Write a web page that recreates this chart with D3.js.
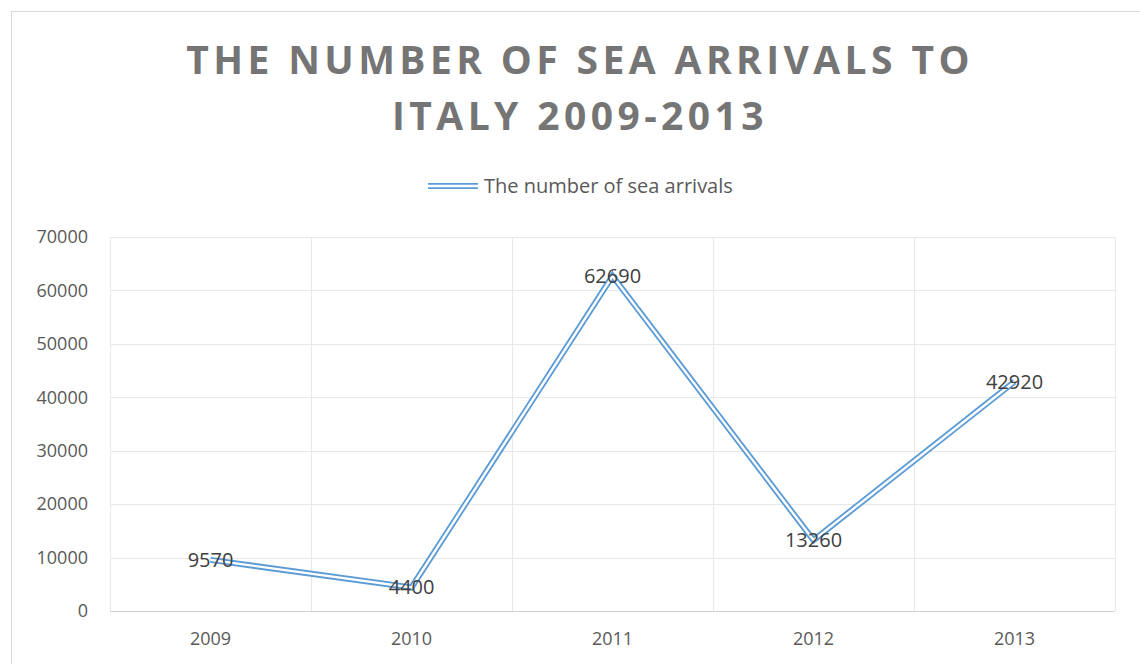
<!DOCTYPE html>
<html>
<head>
<meta charset="utf-8">
<script src="https://cdn.jsdelivr.net/npm/d3@7"></script>
<style>
  html, body { margin: 0; padding: 0; background: #fff; }
  svg { display: block; }
</style>
</head>
<body>
<svg id="chart" width="1140" height="664"></svg>
<script>
// Sea arrivals to Italy, yearly totals
const years = ["2009", "2010", "2011", "2012", "2013"];
const arrivals = [9570, 4400, 62690, 13260, 42920];
const yTicks = [0, 10000, 20000, 30000, 40000, 50000, 60000, 70000];
const titleLines = ["THE NUMBER OF SEA ARRIVALS TO", "ITALY 2009-2013"];
const seriesName = "The number of sea arrivals";

const svg = d3.select("#chart");
const W = 1140, H = 664;
const margin = { left: 110, right: 25, top: 237, bottom: 53 };
const font = "Open Sans, Calibri, Carlito, sans-serif";

// chart frame
svg.append("rect")
  .attr("x", 11.5).attr("y", 11.5)
  .attr("width", W + 10).attr("height", H + 10)
  .attr("fill", "#fff").attr("stroke", "#d9d9d9").attr("stroke-width", 1);

const x = d3.scaleBand().domain(years).range([margin.left, W - margin.right]);
const y = d3.scaleLinear().domain([0, 70000]).range([H - margin.bottom, margin.top]);

// horizontal gridlines
svg.append("g").selectAll("line").data(yTicks).join("line")
  .attr("x1", x.range()[0]).attr("x2", x.range()[1])
  .attr("y1", d => Math.round(y(d)) + 0.5).attr("y2", d => Math.round(y(d)) + 0.5)
  .attr("stroke", d => d === 0 ? "#d0d0d0" : "#e8e8e8").attr("stroke-width", 1);

// vertical gridlines at category boundaries
const bounds = years.map(d => x(d)).concat([x.range()[1]]);
svg.append("g").selectAll("line").data(bounds).join("line")
  .attr("x1", d => Math.round(d) + 0.5).attr("x2", d => Math.round(d) + 0.5)
  .attr("y1", y(70000)).attr("y2", y(0))
  .attr("stroke", "#e8e8e8").attr("stroke-width", 1);

// y axis labels
const yAxis = d3.axisLeft(y).tickValues(yTicks).tickSize(0).tickPadding(0).tickFormat(d3.format("d"));
const gy = svg.append("g").attr("transform", `translate(${margin.left - 22},0)`).call(yAxis);
gy.select(".domain").remove();
gy.selectAll("text").attr("font-family", font).attr("font-size", 18).attr("fill", "#595959");

// x axis labels
const xAxis = d3.axisBottom(x).tickSize(0).tickPadding(0);
const gx = svg.append("g").attr("transform", `translate(0,${y(0) + 21})`).call(xAxis);
gx.select(".domain").remove();
gx.selectAll("text").attr("font-family", font).attr("font-size", 18).attr("fill", "#595959");

// double-stroke line
const line = d3.line().x((d, i) => x(years[i]) + x.bandwidth() / 2).y(d => y(d));
svg.append("path").datum(arrivals).attr("d", line)
  .attr("fill", "none").attr("stroke", "#5b9bd5").attr("stroke-width", 6).attr("stroke-linejoin", "miter");
svg.append("path").datum(arrivals).attr("d", line)
  .attr("fill", "none").attr("stroke", "#ffffff").attr("stroke-width", 2.4).attr("stroke-linejoin", "miter");

// data labels centred on points
svg.append("g").selectAll("text").data(arrivals).join("text")
  .attr("x", (d, i) => x(years[i]) + x.bandwidth() / 2)
  .attr("y", d => y(d))
  .attr("dy", "0.35em")
  .attr("text-anchor", "middle")
  .attr("font-family", font).attr("font-size", 20).attr("fill", "#404040")
  .text(d => d);

// title
svg.append("g").selectAll("text").data(titleLines).join("text")
  .attr("x", 580).attr("y", (d, i) => 74 + i * 56)
  .attr("text-anchor", "middle")
  .attr("font-family", font).attr("font-weight", "bold").attr("font-size", 39)
  .attr("letter-spacing", "4.4px")
  .attr("fill", "#757575")
  .text(d => d);

// legend
const lg = svg.append("g").attr("transform", "translate(428,186)");
lg.append("line").attr("x1", 0).attr("x2", 50).attr("y1", 0).attr("y2", 0)
  .attr("stroke", "#5b9bd5").attr("stroke-width", 6);
lg.append("line").attr("x1", 0).attr("x2", 50).attr("y1", 0).attr("y2", 0)
  .attr("stroke", "#fff").attr("stroke-width", 2.4);
lg.append("text").attr("x", 56).attr("y", 0).attr("dy", "0.35em")
  .attr("font-family", font).attr("font-size", 20).attr("fill", "#595959")
  .text(seriesName);
</script>
</body>
</html>
